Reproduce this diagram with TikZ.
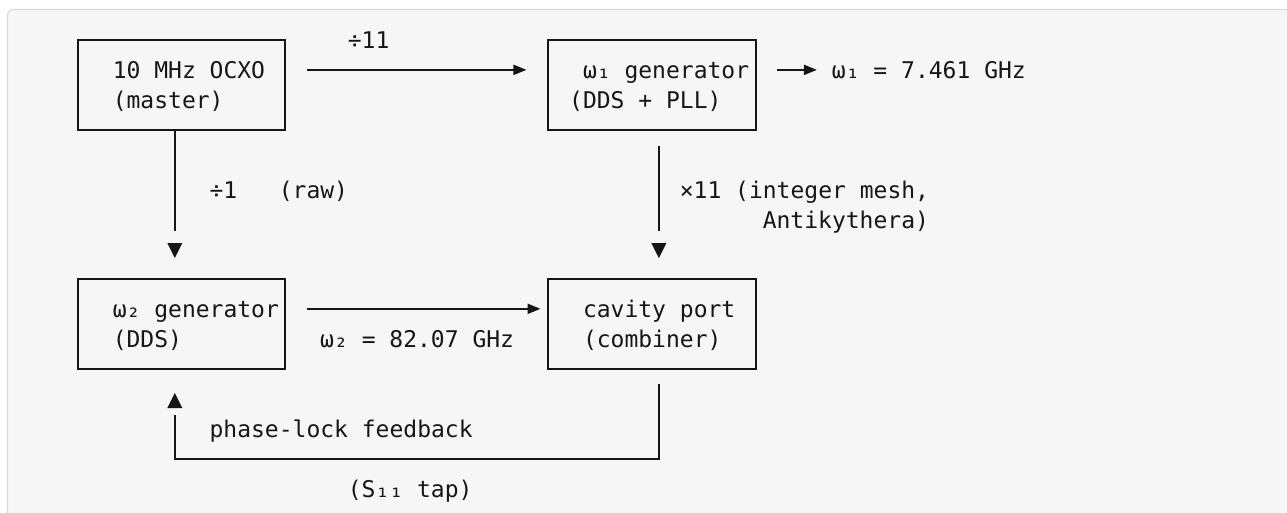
\documentclass[tikz,border=0pt]{standalone}
\usepackage{fontspec}
\usetikzlibrary{arrows.meta,calc}
\newfontfamily\codefont{DejaVu Sans Mono}
\definecolor{ink}{HTML}{161616}
\definecolor{pane}{HTML}{F6F6F6}
\definecolor{paneedge}{HTML}{D9D9D9}
\def\hc{6.915pt}
\def\hr{14.935pt}

\begin{document}
\begin{tikzpicture}[x=1pt,y=-1pt,
  declare function={cx(\k)=78+13.83*\k; lx(\k)=71.085+13.83*\k; ry(\r)=40+29.87*\r; bl(\r)=49+29.87*\r;},
  block/.style={draw=ink, line width=2pt, minimum width=207.45pt, minimum height=89.61pt, inner sep=0pt},
  wire/.style={draw=ink, line width=2pt},
  feed/.style={wire, -{Triangle[length=13pt,width=10pt]}},
  code/.style={font=\codefont\fontsize{23}{30}\selectfont, text=ink, inner sep=0pt, anchor=base west},
]
\useasboundingbox (0,0) rectangle (1287,513);

% code pane
\begin{scope}
  \clip (0,0) rectangle (1287,513);
  \fill[white] (0,0) rectangle (1287,513);
  \draw[paneedge, fill=pane, line width=1.2pt, rounded corners=5pt] (7.5,9.5) rectangle (1320,560);
\end{scope}

% blocks
\node[block] (osc)  at ({cx(7.5)},{ry(1.5)}) {};
\node[block] (gen1) at ({cx(41.5)},{ry(1.5)}) {};
\node[block] (gen2) at ({cx(7.5)},{ry(9.5)}) {};
\node[block] (cav)  at ({cx(41.5)},{ry(9.5)}) {};

% block captions
\node[code] (osca)  at ({lx(3)},{bl(1)})  {10 MHz OCXO};
\node[code] (oscb)  at ({lx(3)},{bl(2)})  {(master)};
\node[code] (gen1a) at ({lx(37)},{bl(1)}) {ω₁ generator};
\node[code] (gen1b) at ({lx(36)},{bl(2)}) {(DDS + PLL)};
\node[code] (gen2a) at ({lx(3)},{bl(9)})  {ω₂ generator};
\node[code] (gen2b) at ({lx(3)},{bl(10)}) {(DDS)};
\node[code] (cava)  at ({lx(37)},{bl(9)}) {cavity port};
\node[code] (cavb)  at ({lx(37)},{bl(10)}) {(combiner)};

% connector labels
\node[code] (div11) at ({lx(20)},{bl(0)})  {÷11};
\node[code] (w1val) at ({lx(55)},{bl(1)})  {ω₁ = 7.461 GHz};
\node[code] (div1)  at ({lx(10)},{bl(5)})  {÷1\ \ \ (raw)};
\node[code] (mul11) at ({lx(44)},{bl(5)})  {×11 (integer mesh,};
\node[code] (mesh)  at ({lx(50)},{bl(6)})  {Antikythera)};
\node[code] (w2val) at ({lx(18)},{bl(10)}) {ω₂ = 82.07 GHz};
\node[code] (pll)   at ({lx(10)},{bl(13)}) {phase-lock feedback};
\node[code] (s11)   at ({lx(20)},{bl(15)}) {(S₁₁ tap)};

% horizontal signal paths
\draw[feed, shorten <=20.75pt, shorten >=20.75pt] ([yshift=\hr]osc.east) -- ([yshift=\hr]gen1.west);
\coordinate (w1tip) at ({lx(54)-1},{ry(1)});
\draw[feed, shorten <=20.75pt] ([yshift=\hr]gen1.east) -- (w1tip);
\draw[feed, shorten <=20.75pt, shorten >=6.7pt] ([yshift=\hr]gen2.east) -- ([yshift=\hr]cav.west);

% vertical signal paths with detached heads
\draw[wire, shorten >=47pt] ([xshift=-\hc]osc.south) -- ([xshift=-\hc]gen2.north);
\draw[wire, shorten <=14.9pt, shorten >=47pt] ([xshift=\hc]gen1.south) -- ([xshift=\hc]cav.north);
\coordinate (dn1) at ({cx(7)},{ry(7)-6});
\coordinate (dn2) at ({cx(42)},{ry(7)-6});
\fill[ink] (dn1) ++(-7.5,0) -- ++(15,0) -- ++(-7.5,15) -- cycle;
\fill[ink] (dn2) ++(-7.5,0) -- ++(15,0) -- ++(-7.5,15) -- cycle;

% feedback loop
\draw[wire, shorten <=14.9pt, shorten >=45.4pt]
  ([xshift=\hc]cav.south) |- ([xshift=-\hc,yshift=-89.61pt]gen2.south) -- ([xshift=-\hc]gen2.south);
\coordinate (up1) at ({cx(7)},{ry(12)+9.6});
\fill[ink] (up1) ++(-7.5,0) -- ++(15,0) -- ++(-7.5,-15) -- cycle;
\end{tikzpicture}
\end{document}
